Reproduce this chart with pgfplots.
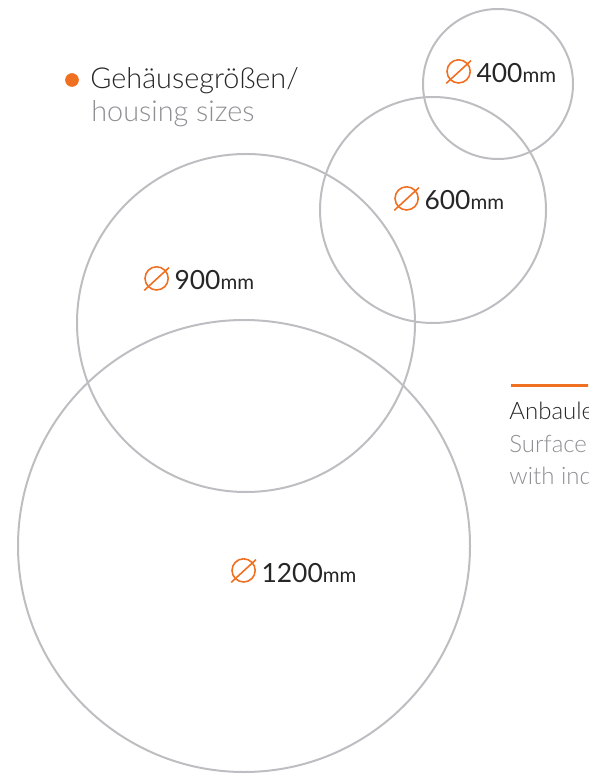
\documentclass[border=0pt]{standalone}
\usepackage{pgfplots}
\pgfplotsset{compat=1.18}
\usepackage{fontspec}
\setmainfont{Lato Light}
\newfontfamily\labfont{Lato}
\definecolor{dorange}{HTML}{F07022}
\definecolor{circgray}{HTML}{BEBEC2}
\definecolor{txtdark}{HTML}{262626}
\definecolor{txtgray}{HTML}{8E8E93}
\newcommand{\diam}{\tikz[baseline=0pt]{\draw[dorange, line width=0.8pt] (6.2pt,5.8pt) circle[radius=5.8pt]; \draw[dorange, line width=0.8pt] (0pt,-0.2pt) -- (12.4pt,11.2pt);}}
\newcommand{\lab}[1]{{\labfont\fontsize{13.2pt}{15pt}\selectfont\color{txtdark}\diam\hspace{2.4pt}#1{\fontsize{10.2pt}{12pt}\selectfont mm}}}
\begin{document}
\begin{tikzpicture}
\useasboundingbox (0,0) rectangle (294pt,389.5pt);
\clip (0,0) rectangle (294pt,389.5pt);
\begin{axis}[
  at={(0,0)}, anchor=south west,
  width=294pt, height=389.5pt, scale only axis,
  xmin=0, xmax=588, ymin=0, ymax=779, y dir=reverse,
  hide axis, clip=false,
]
% housing circles: centre (px) with diameter 400, 600, 900, 1200 mm
\addplot[only marks, mark=o, mark size=37.5pt, mark options={draw=circgray, line width=1pt}] coordinates {(498,84)};
\addplot[only marks, mark=o, mark size=56.5pt, mark options={draw=circgray, line width=1pt}] coordinates {(433,210)};
\addplot[only marks, mark=o, mark size=84.5pt, mark options={draw=circgray, line width=1pt}] coordinates {(246,323)};
\addplot[only marks, mark=o, mark size=113pt, mark options={draw=circgray, line width=1pt}] coordinates {(244,546)};
% legend dot
\addplot[only marks, mark=*, mark size=3.2pt, mark options={fill=dorange, draw=dorange}] coordinates {(72,80)};
% orange rule on the right
\addplot[dorange, line width=1.5pt] coordinates {(511,386) (600,386)};

\node[anchor=base west, inner sep=0pt] at (axis cs:445,83) {\lab{400}};
\node[anchor=base west, inner sep=0pt] at (axis cs:393,210) {\lab{600}};
\node[anchor=base west, inner sep=0pt] at (axis cs:143,290) {\lab{900}};
\node[anchor=base west, inner sep=0pt] at (axis cs:230,582) {\lab{1200}};

\node[anchor=base west, inner sep=0pt, text=txtdark, font=\fontsize{14.4pt}{16pt}\selectfont] at (axis cs:90,89) {Gehäusegrößen/};
\node[anchor=base west, inner sep=0pt, text=txtgray, font=\fontsize{14.4pt}{16pt}\selectfont] at (axis cs:91,122) {housing sizes};

\node[anchor=base west, inner sep=0pt, text=txtdark, font=\fontsize{12pt}{14pt}\selectfont] at (axis cs:509,419) {Anbauleuchte/};
\node[anchor=base west, inner sep=0pt, text=txtgray, font=\fontsize{12pt}{14pt}\selectfont] at (axis cs:509,452) {Surface mounted};
\node[anchor=base west, inner sep=0pt, text=txtgray, font=\fontsize{12pt}{14pt}\selectfont] at (axis cs:509,484) {with indirect light};
\end{axis}
\end{tikzpicture}
\end{document}
